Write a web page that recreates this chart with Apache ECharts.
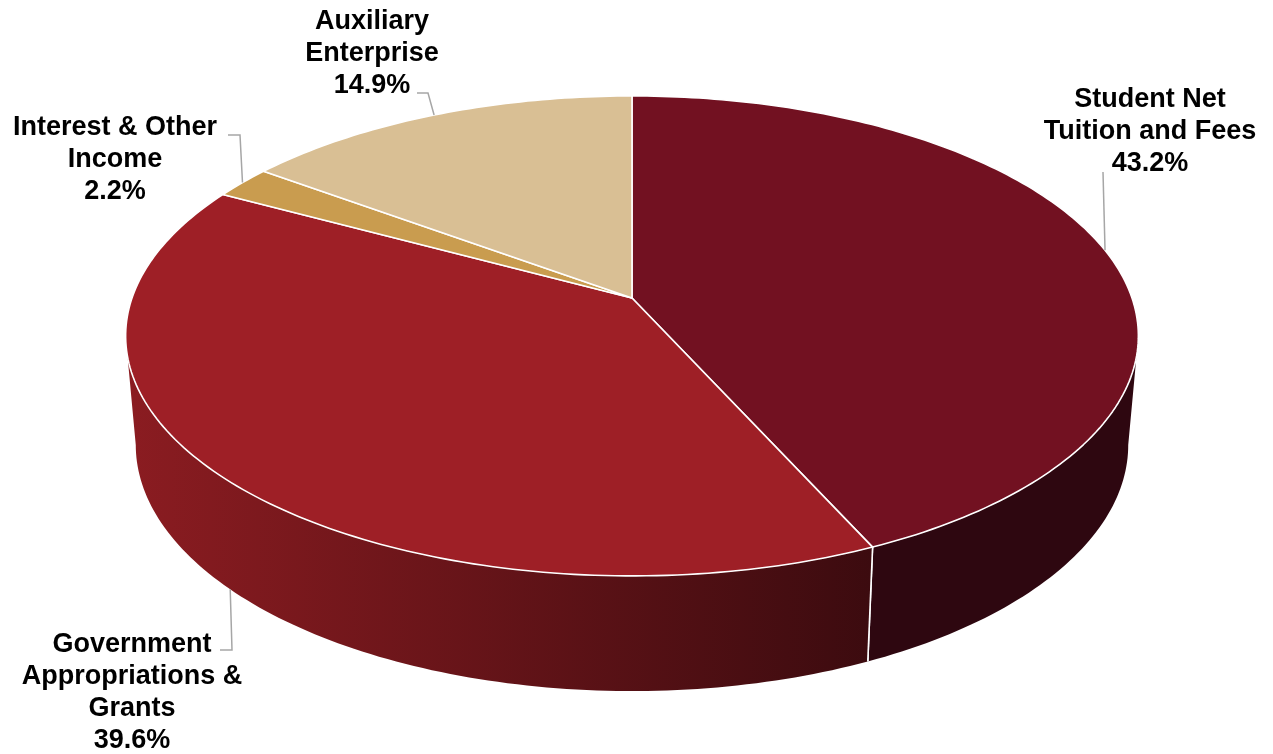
<!DOCTYPE html>
<html>
<head>
<meta charset="utf-8">
<script src="https://cdn.jsdelivr.net/npm/echarts@6/dist/echarts.min.js"></script>
<style>
html,body{margin:0;padding:0;background:#ffffff;}
#main{width:1273px;height:754px;}
</style>
</head>
<body>
<div id="main"></div>
<script>
// ---- data ----
const categories = ['Student Net Tuition and Fees', 'Government Appropriations & Grants', 'Interest & Other Income', 'Auxiliary Enterprise'];
const labelLines = [['Student Net', 'Tuition and Fees'], ['Government', 'Appropriations &', 'Grants'], ['Interest & Other', 'Income'], ['Auxiliary', 'Enterprise']];
const shares = [43.2, 39.6, 2.2, 14.9];

// ---- styles ----
const topColors = ['#721121', '#9e1f26', '#c99c4f', '#d9bf94'];
const wallColors = [['#2e0710', '#2e0710'], ['#8b1c21', '#3c0b0f'], ['#9a7436', '#8a6630'], ['#a99067', '#9a8059']];

// ---- layout (pixel geometry of the tilted pie) ----
const GEOM = {
  top:    { cx: 632, cy: 298, rx: 500, ry: 234, k: 0.158 },
  bottom: { cx: 632, cy: 406, rx: 490, ry: 240, k: 0.158 }
};
const LABEL_LAYOUT = [
  { face: 'top',    text: [1150, 83.5], path: [[1103, 172]] },
  { face: 'bottom', text: [132, 628.5], path: [[232, 650], [220, 650]] },
  { face: 'top',    text: [115, 111.5], path: [[240, 135], [228, 135]] },
  { face: 'top',    text: [372, 5.5],   path: [[428, 93], [417, 93]] }
];

// slice angles (clockwise from 12 o'clock), derived from the data
const total = shares.reduce((a, b) => a + b, 0);
const slices = [];
(function () {
  let acc = 0;
  shares.forEach((v, i) => {
    const a0 = acc / total * Math.PI * 2;
    acc += v;
    const a1 = acc / total * Math.PI * 2;
    slices.push({ a0, a1 });
  });
})();

function proj(theta, face) {
  const g = GEOM[face];
  const u = Math.sin(theta), v = -Math.cos(theta);
  const den = 1 - g.k * v;
  return [g.cx + g.rx * u / den, g.cy + g.ry * v / den];
}
function arc(a0, a1, face) {
  const n = Math.max(4, Math.ceil(Math.abs(a1 - a0) / (Math.PI / 180)));
  const pts = [];
  for (let j = 0; j <= n; j++) pts.push(proj(a0 + (a1 - a0) * j / n, face));
  return pts;
}
const thR = Math.acos(-GEOM.top.k);             // right silhouette angle
const thL = Math.PI * 2 - thR;                  // left silhouette angle

function renderWall(params, api) {
  const i = params.dataIndex;
  const s = slices[i];
  const a0 = Math.max(s.a0, thR), a1 = Math.min(s.a1, thL);
  if (a1 <= a0) return { type: 'group', children: [] };
  const topPts = arc(a0, a1, 'top');
  const botPts = arc(a0, a1, 'bottom').reverse();
  const pts = topPts.concat(botPts);
  let minX = Infinity, maxX = -Infinity;
  pts.forEach(p => { minX = Math.min(minX, p[0]); maxX = Math.max(maxX, p[0]); });
  const fill = new echarts.graphic.LinearGradient(minX, 0, maxX, 0, [
    { offset: 0, color: wallColors[i][0] },
    { offset: 1, color: wallColors[i][1] }
  ], true);
  const children = [{ type: 'polygon', shape: { points: pts }, style: { fill: fill } }];
  [s.a0, s.a1].forEach(a => {
    if (a > thR && a < thL) {
      children.push({ type: 'line', shape: { x1: proj(a, 'top')[0], y1: proj(a, 'top')[1], x2: proj(a, 'bottom')[0], y2: proj(a, 'bottom')[1] },
        style: { stroke: '#ffffff', lineWidth: 1.6 } });
    }
  });
  return { type: 'group', children: children };
}

function renderTop(params, api) {
  const i = params.dataIndex;
  const s = slices[i];
  const pts = [[GEOM.top.cx, GEOM.top.cy]].concat(arc(s.a0, s.a1, 'top'));
  return {
    type: 'polygon',
    shape: { points: pts },
    style: { fill: topColors[i], stroke: '#ffffff', lineWidth: 1.6, lineJoin: 'round' }
  };
}

function renderLabel(params, api) {
  const i = params.dataIndex;
  const s = slices[i];
  const L = LABEL_LAYOUT[i];
  const mid = (s.a0 + s.a1) / 2;
  const start = proj(mid, L.face);
  const pts = [start].concat(L.path);
  const txt = labelLines[i].join('\n') + '\n' + api.value(1).toFixed(1) + '%';
  return {
    type: 'group',
    children: [
      { type: 'polyline', shape: { points: pts }, style: { stroke: '#a6a6a6', lineWidth: 1.5, fill: null } },
      { type: 'text', x: L.text[0], y: L.text[1],
        style: { text: txt, fill: '#000000', font: 'bold 27px "Liberation Sans", Arial, sans-serif',
                 align: 'center', verticalAlign: 'top', lineHeight: 32 } }
    ]
  };
}

const seriesData = shares.map((v, i) => ({ name: categories[i], value: [i, v] }));

const chart = echarts.init(document.getElementById('main'), null, { renderer: 'canvas' });
chart.setOption({
  animation: false,
  backgroundColor: '#ffffff',
  series: [
    { type: 'custom', coordinateSystem: 'none', renderItem: renderWall, data: seriesData, silent: true, z: 1 },
    { type: 'custom', coordinateSystem: 'none', renderItem: renderTop, data: seriesData, silent: true, z: 2 },
    { type: 'custom', coordinateSystem: 'none', renderItem: renderLabel, data: seriesData, silent: true, z: 3 }
  ]
});
</script>
</body>
</html>
